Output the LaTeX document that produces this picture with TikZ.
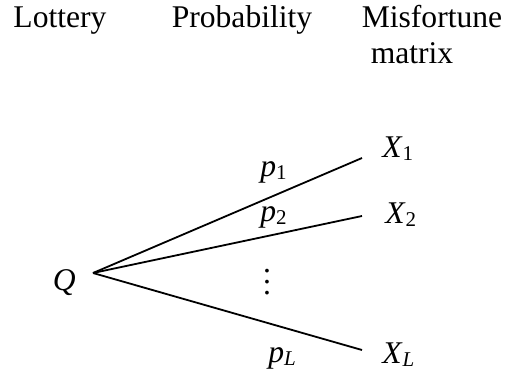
\documentclass[tikz,border=0pt]{standalone}
\usepackage{fontspec}
\setmainfont{Liberation Serif}
\newcommand{\lsub}[1]{\raisebox{-0.1em}{\fontsize{10.5}{12}\selectfont #1}}

\begin{document}
\begin{tikzpicture}[x=0.5pt, y=-0.5pt,
    every node/.style={inner sep=0pt, font=\fontsize{15.8}{19}\selectfont},
    head/.style={anchor=base},
    outcome/.style={anchor=base west},
    branch/.style={line width=0.9pt}]
  \useasboundingbox (0,0) rectangle (506,374);

  % column headings
  \node[head] (lottery) at (60,28) {Lottery};
  \node[head] (prob) at (242,28) {Probability};
  \node[head] (misf) at (432,28) {Misfortune};
  \node[head] (matrix) at (412,63) {matrix};

  % lottery and its outcomes
  \node[anchor=base east] (Q) at (76,290) {\textit{Q}};
  \coordinate (root) at (93,273);
  \node[outcome] (X1) at (382,157) {\textit{X}\lsub{1}};
  \node[outcome] (X2) at (385,223) {\textit{X}\lsub{2}};
  \node[outcome] (XL) at (382,363) {\textit{X}\lsub{\textit{L}}};
  \coordinate (e1) at (362,158);
  \coordinate (e2) at (362,216);
  \coordinate (eL) at (362,350);

  \draw[branch] (root) -- (e1);
  \draw[branch] (root) -- (e2);
  \draw[branch] (root) -- (eL);

  % probabilities
  \node[outcome] (p1) at (260,176) {\textit{p}\lsub{1}};
  \node[outcome] (p2) at (260,221) {\textit{p}\lsub{2}};
  \node[outcome] (pL) at (268,362) {\textit{p}\lsub{\textit{L}}};
  \node[align=center, font=\fontsize{15.8}{5.6}\selectfont] (dots) at (267,282) {.\\.\\.};
\end{tikzpicture}
\end{document}
